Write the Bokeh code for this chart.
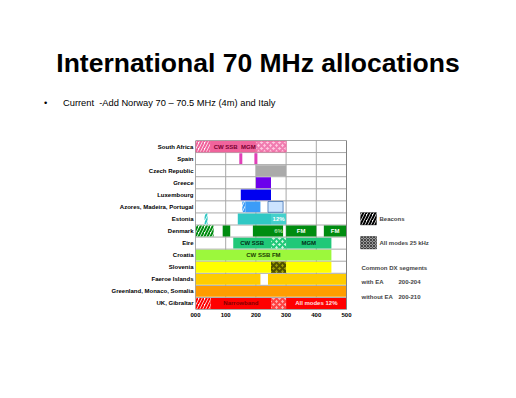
from bokeh.plotting import figure
from bokeh.layouts import column
from bokeh.models import FixedTicker, Label, BoxAnnotation, Range1d, ColumnDataSource, Div
from bokeh.core.properties import value
from bokeh.embed import file_html
from bokeh.resources import INLINE

# ---------------- data ----------------
countries = ["South Africa", "Spain", "Czech Republic", "Greece", "Luxembourg",
             "Azores, Madeira, Portugal", "Estonia", "Denmark", "Eire", "Croatia",
             "Slovenia", "Faeroe Islands", "Greenland, Monaco, Somalia", "UK, Gibraltar"]

seg_country = ["South Africa", "South Africa", "South Africa", "South Africa",
               "Spain", "Spain",
               "Czech Republic",
               "Greece",
               "Luxembourg",
               "Azores, Madeira, Portugal", "Azores, Madeira, Portugal", "Azores, Madeira, Portugal",
               "Estonia", "Estonia", "Estonia",
               "Denmark", "Denmark", "Denmark", "Denmark", "Denmark",
               "Eire", "Eire", "Eire",
               "Croatia",
               "Slovenia", "Slovenia", "Slovenia",
               "Faeroe Islands", "Faeroe Islands",
               "Greenland, Monaco, Somalia",
               "UK, Gibraltar", "UK, Gibraltar", "UK, Gibraltar", "UK, Gibraltar"]
seg_start = [0, 50, 150, 200,
             145, 195,
             200,
             200,
             150,
             155, 165, 240,
             30, 140, 250,
             0, 90, 190, 300, 425,
             125, 250, 300,
             0,
             0, 250, 300,
             0, 240,
             0,
             0, 50, 250, 300]
seg_end = [50, 150, 200, 300,
           155, 205,
           300,
           250,
           250,
           165, 215, 290,
           40, 250, 300,
           60, 115, 290, 400, 500,
           250, 300, 450,
           450,
           250, 300, 450,
           215, 500,
           500,
           50, 250, 300, 500]
seg_fill = ["#FFFFFF", "#F0649C", "#F0649C", "#FFC8E0",
            "#E040B8", "#E040B8",
            "#AAAAAA",
            "#6C00EC",
            "#0000F0",
            "#FFFFFF", "#3C9CF8", "#CCE4FF",
            "#FFFFFF", "#30C8C4", "#44D0CC",
            "#FFFFFF", "#008C10", "#008C10", "#008C10", "#008C10",
            "#20C878", "#C8F8DC", "#20C878",
            "#9CF83C",
            "#FFFF00", "#A0A000", "#FFFF00",
            "#FFCC00", "#FFCC00",
            "#FF9C00",
            "#FFFFFF", "#FF0000", "#FFB0B0", "#FF0000"]
seg_hatch = ["/", " ", " ", "x",
             " ", " ",
             " ",
             " ",
             " ",
             "/", " ", " ",
             "/", " ", " ",
             "/", " ", " ", " ", " ",
             " ", "x", " ",
             " ",
             " ", "x", " ",
             " ", " ",
             " ",
             "/", " ", "x", " "]
seg_hatch_color = ["#F0649C", "#F0649C", "#F0649C", "#F07CB0",
                   "#000000", "#000000",
                   "#000000",
                   "#000000",
                   "#000000",
                   "#3C9CF8", "#000000", "#000000",
                   "#30C8C4", "#000000", "#000000",
                   "#008C10", "#000000", "#000000", "#000000", "#000000",
                   "#000000", "#20C878", "#000000",
                   "#000000",
                   "#000000", "#505000", "#000000",
                   "#000000", "#000000",
                   "#000000",
                   "#FF0000", "#000000", "#FF4040", "#000000"]
seg_line = ["#F0649C", "#F0649C", "#F0649C", "#F0649C",
            None, None,
            None,
            None,
            None,
            None, None, "#4070B0",
            None, None, None,
            None, None, None, None, None,
            None, None, None,
            None,
            None, None, None,
            None, None,
            None,
            None, None, None, None]
seg_text = ["", "CW SSB", "MGM", "",
            "", "",
            "",
            "",
            "",
            "", "", "",
            "", "", "12%",
            "", "", "6%", "FM", "FM",
            "CW SSB", "", "MGM",
            "CW SSB FM",
            "", "", "",
            "", "",
            "",
            "", "Narrowband", "", "All modes 12%"]
seg_text_color = ["", "#7A0030", "#7A0030", "",
                  "", "",
                  "",
                  "",
                  "",
                  "", "", "",
                  "", "", "#FFFFFF",
                  "", "", "#A0E0A0", "#FFFFFF", "#FFFFFF",
                  "#003018", "", "#003018",
                  "#204000",
                  "", "", "",
                  "", "",
                  "",
                  "", "#800000", "", "#FFE0E0"]

x_ticks = [0, 100, 200, 300, 400, 500]
x_tick_labels = ["000", "100", "200", "300", "400", "500"]

title_text = "International 70 MHz allocations"
bullet_text = "Current  -Add Norway 70 \u2013 70.5 MHz (4m) and Italy"
legend_items = ["Beacons", "All modes 25 kHz"]
dx_lines = [("Common DX segments", ""), ("with EA", "200-204"), ("without EA", "200-210")]

# ---------------- layout geometry (page px) ----------------
W, H = 516, 398
HEAD = 130                               # header strip height
FL, FR, FT, FB = 195, 346, 140, 309      # chart box (0..500 kHz, all rows)
n = len(countries)
XMAX = 500.0
X_END = (W - FL) / (FR - FL) * XMAX      # frame reaches to the right edge (legend area)


def px_x(px):
    return (px - FL) / (FR - FL) * XMAX


def py_y(py):
    return (n - 0.5) - (py - FT) / (FB - FT) * n


# ---------------- header (title + bullet line) ----------------
font = "font-family:'Liberation Sans',Arial,sans-serif;color:#000;white-space:pre;line-height:1;margin:0;padding:0;"
header_html = (
    f'<div style="position:relative;width:{W}px;height:{HEAD}px;margin:0;padding:0;">'
    f'<div style="position:absolute;left:0;top:50px;width:{W}px;text-align:center;'
    f'font-size:26.5px;font-weight:bold;{font}">{title_text}</div>'
    f'<div style="position:absolute;left:44px;top:99px;font-size:9.3px;{font}">\u2022</div>'
    f'<div style="position:absolute;left:63px;top:99px;font-size:9.3px;{font}">{bullet_text}</div>'
    '</div>'
)
head = Div(text=header_html, width=W, height=HEAD, margin=0)

# ---------------- chart ----------------
p = figure(width=W, height=H - HEAD, output_backend="svg", toolbar_location=None,
           x_range=Range1d(0, X_END), y_range=Range1d(-0.5, n - 0.5),
           min_border_left=FL, min_border_right=0,
           min_border_top=FT - HEAD, min_border_bottom=H - FB, title=None, margin=0)
p.outline_line_color = None
p.background_fill_color = "white"
p.border_fill_color = "white"
p.grid.visible = False

row_y = {c: (n - 1) - i for i, c in enumerate(countries)}

# grid lines inside the chart box
gx0 = x_ticks + [0.0] * (n + 1)
gx1 = x_ticks + [XMAX] * (n + 1)
gy0 = [-0.5] * len(x_ticks) + [k - 0.5 for k in range(n + 1)]
gy1 = [n - 0.5] * len(x_ticks) + [k - 0.5 for k in range(n + 1)]
p.segment(x0=gx0, y0=gy0, x1=gx1, y1=gy1, line_color="#A8A8A8", line_width=1)

src = ColumnDataSource(dict(
    y=[row_y[c] for c in seg_country],
    left=seg_start, right=seg_end,
    fill=seg_fill, hatch=seg_hatch, hcol=seg_hatch_color, line=seg_line,
))
p.hbar(y="y", left="left", right="right", height=0.9, source=src,
       fill_color="fill", line_color="line", line_width=0.8,
       hatch_pattern="hatch", hatch_color="hcol", hatch_scale=6, hatch_weight=2)

# chart outline
p.quad(left=[0], right=[XMAX], bottom=[-0.5], top=[n - 0.5], fill_color=None,
       line_color="#808080", line_width=1)

tx, ty, tt, tc = [], [], [], []
for c, s, e, t, col in zip(seg_country, seg_start, seg_end, seg_text, seg_text_color):
    if t:
        tx.append((s + e) / 2 if t != "6%" else e - 15)
        ty.append(row_y[c])
        tt.append(t)
        tc.append(col)
p.text(x=tx, y=ty, text=tt, text_color=tc, text_font=value("Liberation Sans"),
       text_font_style="bold", text_font_size="6px", text_align="center",
       text_baseline="middle")

# axes
p.xaxis.ticker = FixedTicker(ticks=x_ticks)
p.xaxis.major_label_overrides = dict(zip(x_ticks, x_tick_labels))
p.yaxis.ticker = FixedTicker(ticks=[row_y[c] for c in countries])
p.yaxis.major_label_overrides = {row_y[c]: c for c in countries}
for ax in (p.xaxis[0], p.yaxis[0]):
    ax.axis_line_color = None
    ax.major_tick_line_color = None
    ax.minor_tick_line_color = None
    ax.major_tick_in = 0
    ax.major_tick_out = 0
    ax.minor_tick_in = 0
    ax.minor_tick_out = 0
    ax.major_label_text_font = "Liberation Sans"
    ax.major_label_text_font_style = "bold"
    ax.major_label_text_font_size = "6px"
    ax.major_label_text_color = "black"
p.yaxis.major_label_standoff = 2
p.xaxis.major_label_standoff = 3

# legend swatches
p.add_layout(BoxAnnotation(left=px_x(360), right=px_x(376), top=py_y(212), bottom=py_y(224.5),
                           fill_color="white", fill_alpha=1, line_color="black", line_width=1,
                           hatch_pattern="/", hatch_color="black", hatch_scale=6, hatch_weight=2))
p.add_layout(BoxAnnotation(left=px_x(360), right=px_x(376), top=py_y(236), bottom=py_y(248.5),
                           fill_color="#9A9A9A", fill_alpha=1, line_color="black", line_width=1,
                           hatch_pattern="x", hatch_color="#303030", hatch_scale=3, hatch_weight=0.8))
for txt, py in zip(legend_items, [218.5, 242.5]):
    p.add_layout(Label(x=px_x(379), y=py_y(py), text=txt, text_font="Liberation Sans",
                       text_font_style="bold", text_font_size="6px", text_baseline="middle"))
for (a, b), py in zip(dx_lines, [267, 281.5, 296.5]):
    p.add_layout(Label(x=px_x(361), y=py_y(py), text=a, text_font="Liberation Sans",
                       text_font_style="bold", text_font_size="6px", text_baseline="middle"))
    if b:
        p.add_layout(Label(x=px_x(398), y=py_y(py), text=b, text_font="Liberation Sans",
                           text_font_style="bold", text_font_size="6px", text_baseline="middle"))

layout = column(head, p, spacing=0)
open("out.html", "w").write(file_html(layout, INLINE))
